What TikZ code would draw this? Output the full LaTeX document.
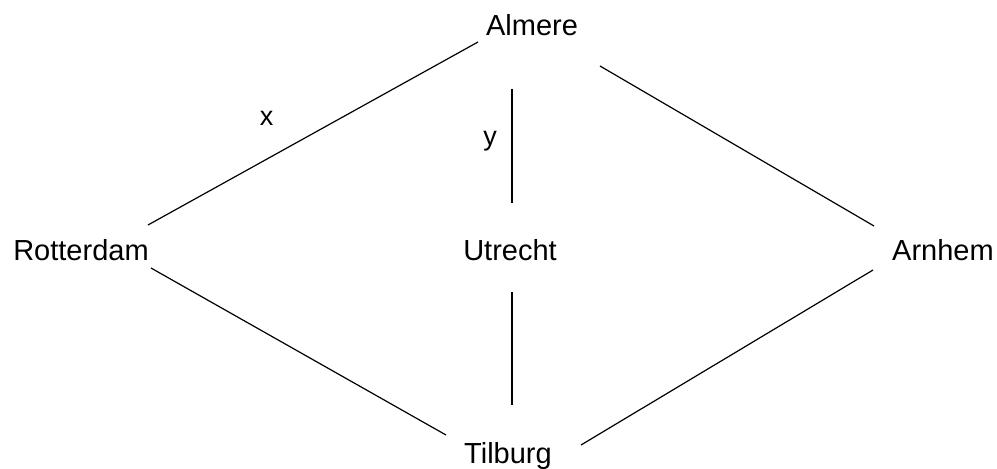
\documentclass[tikz,border=0pt]{standalone}
\usepackage{fontspec}
\setmainfont{Liberation Sans}
\begin{document}
\begin{tikzpicture}[x=1pt,y=-1pt,
  city/.style={anchor=base,inner sep=0pt,font=\fontsize{29}{34}\selectfont},
  lbl/.style={anchor=center,inner sep=0pt,font=\fontsize{27}{32}\selectfont},
  edge/.style={draw=black,line width=1.2pt}]
\useasboundingbox (0,0) rectangle (997,469);
\node[city] (Almere) at (532,35.5) {Almere};
\node[city] (Rotterdam) at (81,260) {Rotterdam};
\node[city] (Utrecht) at (510,260) {Utrecht};
\node[city] (Arnhem) at (943,260) {Arnhem};
\node[city] (Tilburg) at (508,463) {Tilburg};
% edge end points
\coordinate (ARa) at (478,42);
\coordinate (ARb) at (148,225);
\coordinate (AUa) at (512,89);
\coordinate (AUb) at (512,203);
\coordinate (AAa) at (600,66);
\coordinate (AAb) at (874,226);
\coordinate (RTa) at (151,268);
\coordinate (RTb) at (446,435);
\coordinate (UTa) at (512,292);
\coordinate (UTb) at (512,405);
\coordinate (ATa) at (873,270);
\coordinate (ATb) at (581,445);
\draw[edge] (ARa) -- (ARb);
\draw[edge] (AUa) -- (AUb);
\draw[edge] (AAa) -- (AAb);
\draw[edge] (RTa) -- (RTb);
\draw[edge] (UTa) -- (UTb);
\draw[edge] (ATa) -- (ATb);
\node[lbl] (lx) at (266.5,118) {x};
\node[lbl] (ly) at (490,141) {y};
\end{tikzpicture}
\end{document}
